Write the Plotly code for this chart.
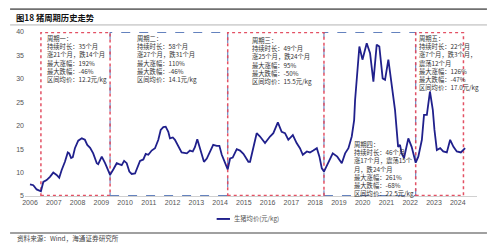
import plotly.graph_objects as go

# ---- data ----
years = [2006.00, 2006.14, 2006.28, 2006.46, 2006.56, 2006.70, 2006.84, 2006.98, 2007.12, 2007.23,
         2007.33, 2007.47, 2007.59, 2007.65, 2007.73, 2007.80, 2007.89, 2008.03, 2008.18, 2008.31,
         2008.41, 2008.53, 2008.66, 2008.81, 2008.87, 2009.02, 2009.16, 2009.37, 2009.51, 2009.65,
         2009.75, 2009.86, 2009.96, 2010.07, 2010.18, 2010.28, 2010.42, 2010.52, 2010.63, 2010.77,
         2010.87, 2010.98, 2011.12, 2011.26, 2011.40, 2011.50, 2011.61, 2011.71, 2011.82, 2011.89,
         2012.01, 2012.10, 2012.24, 2012.38, 2012.60, 2012.73, 2012.85, 2012.94, 2013.04, 2013.13,
         2013.23, 2013.32, 2013.44, 2013.55, 2013.71, 2013.86, 2013.97, 2014.07, 2014.21, 2014.32,
         2014.42, 2014.53, 2014.70, 2014.84, 2014.98, 2015.19, 2015.26, 2015.54, 2015.68, 2015.89,
         2016.10, 2016.24, 2016.43, 2016.59, 2016.73, 2016.87, 2017.06, 2017.22, 2017.36, 2017.48,
         2017.65, 2017.78, 2017.92, 2018.07, 2018.18, 2018.28, 2018.37, 2018.55, 2018.74, 2018.93,
         2019.12, 2019.26, 2019.40, 2019.54, 2019.64, 2019.68, 2019.78, 2019.86, 2019.99, 2020.17,
         2020.31, 2020.45, 2020.59, 2020.70, 2020.84, 2020.94, 2021.08, 2021.22, 2021.36, 2021.43,
         2021.49, 2021.57, 2021.64, 2021.74, 2021.92, 2022.06, 2022.23, 2022.34, 2022.49, 2022.58,
         2022.70, 2022.83, 2022.95, 2023.02, 2023.12, 2023.26, 2023.39, 2023.54, 2023.68, 2023.82,
         2023.96, 2024.13, 2024.31]
prices = [7.5, 7.3, 6.4, 6.0, 8.0, 8.4, 9.1, 10.0, 9.5, 8.9,
          10.5, 12.3, 14.3, 14.1, 13.1, 13.3, 15.2, 16.8, 17.3, 17.0,
          15.9, 15.3, 14.1, 12.0, 11.8, 13.4, 12.0, 9.5, 10.7, 12.0,
          11.8, 11.6, 12.5, 12.0, 10.2, 9.7, 9.8, 11.3, 12.5, 12.8,
          14.0, 13.8, 14.7, 15.2, 17.0, 19.1, 19.7, 19.8, 18.7, 17.3,
          17.5, 17.0, 15.5, 14.3, 14.1, 14.7, 14.5, 15.4, 17.1, 15.5,
          14.1, 12.3, 13.0, 14.1, 15.9, 15.7, 15.7, 13.8, 12.0, 10.7,
          13.0, 13.2, 15.0, 14.7, 14.0, 12.3, 12.3, 18.4, 17.7, 16.3,
          17.7, 18.4, 20.7, 18.7, 18.4, 17.0, 18.0, 16.3, 15.2, 13.8,
          14.5, 14.3, 14.7, 15.2, 13.4, 10.9, 10.2, 12.0, 14.1, 13.4,
          12.0, 14.1, 15.2, 17.7, 21.2, 25.5, 32.6, 36.9, 34.1, 37.6,
          35.5, 29.4, 37.3, 36.9, 30.1, 29.8, 34.1, 29.1, 23.4, 19.1,
          15.5, 15.9, 14.1, 13.1, 17.3, 15.5, 12.1, 13.4, 17.0, 22.3,
          22.3, 27.3, 23.4, 19.1, 14.8, 15.2, 14.5, 14.3, 17.0, 15.5,
          14.5, 14.3, 15.2]

tick_years = list(range(2006, 2025))
tick_labels = [str(y) for y in tick_years]
y_ticks = [5, 10, 15, 20, 25, 30, 35, 40]

# cycle boundaries (troughs) and box colours
cycle_bounds = [2006.46, 2009.37, 2014.32, 2018.37, 2022.23, 2024.24]
cycle_kind = ["red", "blue", "red", "blue", "red"]

cycle_texts = [
    "周期一：<br>持续时长：35个月<br>涨21个月，跌14个月<br>最大涨幅：192%<br>最大跌幅：-46%<br>区间均价：12.2元/kg",
    "周期二：<br>持续时长：58个月<br>涨27个月，跌31个月<br>最大涨幅：110%<br>最大跌幅：-46%<br>区间均价：14.1元/kg",
    "周期三：<br>持续时长：49个月<br>涨25个月，跌24个月<br>最大涨幅：95%<br>最大跌幅：-50%<br>区间均价：15.5元/kg",
    "周期四：<br>持续时长：46个月<br>涨17个月，震荡15个<br>月，跌24个月<br>最大涨幅：261%<br>最大跌幅：-68%<br>区间均价：22.5元/kg",
    "周期五：<br>持续时长：22个月<br>涨7个月，跌3个月，<br>震荡12个月<br>最大涨幅：126%<br>最大跌幅：-47%<br>区间均价：17.0元/kg",
]
text_x = [2006.68, 2010.45, 2015.30, 2019.58, 2022.33]
text_y = [40.0, 40.0, 39.4, 17.15, 39.85]
text_shift = [-1, -1, 0, 0, 0]

series_name = "生猪均价(元/kg)"

FONT = "Noto Sans CJK SC, Noto Sans, sans-serif"
LINE_COLOR = "#20208c"
RED = "rgba(226,72,92,0.95)"
BLUE = "rgb(100,130,190)"

fig = go.Figure()
fig.add_trace(go.Scatter(x=years, y=prices, mode="lines", name=series_name,
                         line=dict(color=LINE_COLOR, width=1.8), showlegend=False))

shapes = []
# blue boxes first, red on top so shared edges show red
for kind_pass in ["blue", "red"]:
    for i, kind in enumerate(cycle_kind):
        if kind != kind_pass:
            continue
        shapes.append(dict(type="rect", xref="x", yref="y",
                           x0=cycle_bounds[i], x1=cycle_bounds[i + 1], y0=5.12, y1=39.88,
                           line=dict(color=RED if kind == "red" else BLUE,
                                     width=1.5 if kind == "red" else 1.1,
                                     dash="dot" if kind == "red" else "dash"),
                           layer="below"))

# decorative rules (paper coords)
shapes += [
    dict(type="line", xref="paper", yref="paper", x0=-0.033, x1=1.022, y0=1.140, y1=1.140,
         line=dict(color="#707070", width=1.8)),
    dict(type="line", xref="paper", yref="paper", x0=-0.033, x1=1.022, y0=1.043, y1=1.043,
         line=dict(color="#a0a0a0", width=0.8)),
    dict(type="line", xref="paper", yref="paper", x0=-0.033, x1=1.022, y0=-0.226, y1=-0.226,
         line=dict(color="#808080", width=1.6)),
    # legend sample
    dict(type="line", xref="paper", yref="paper", x0=0.424, x1=0.4535, y0=-0.140, y1=-0.140,
         line=dict(color=LINE_COLOR, width=1.9)),
]

annotations = []
for t, x, y, s in zip(cycle_texts, text_x, text_y, text_shift):
    annotations.append(dict(text=t, x=x, y=y, xref="x", yref="y", xanchor="left", yanchor="top",
                            align="left", showarrow=False, borderpad=0, yshift=s,
                            font=dict(family=FONT, size=6.3, color="#333333")))
annotations += [
    dict(text="<b>图18 猪周期历史走势</b>", x=-0.025, y=1.0915, xref="paper", yref="paper",
         xanchor="left", yanchor="middle", showarrow=False,
         font=dict(family=FONT, size=8.3, color="#111111")),
    dict(text=series_name, x=0.457, y=-0.140, xref="paper", yref="paper",
         xanchor="left", yanchor="middle", showarrow=False,
         font=dict(family=FONT, size=6.3, color="#555555")),
    dict(text="资料来源：Wind，海通证券研究所", x=-0.022, y=-0.257, xref="paper", yref="paper",
         xanchor="left", yanchor="middle", showarrow=False,
         font=dict(family=FONT, size=6.6, color="#444444")),
]

fig.update_layout(
    width=499, height=252,
    margin=dict(l=25, r=22, t=32, b=56),
    paper_bgcolor="white", plot_bgcolor="white",
    font=dict(family=FONT, size=7, color="#555555"),
    showlegend=False,
    shapes=shapes, annotations=annotations,
    xaxis=dict(range=[2005.79, 2024.81], tickmode="array", tickvals=tick_years, ticktext=tick_labels,
               showgrid=False, zeroline=False, showline=True, linecolor="#d0d0d0", linewidth=1,
               ticks="", tickfont=dict(family="Liberation Sans, Arial, sans-serif", size=7, color="#555555")),
    yaxis=dict(range=[5, 40], tickmode="array", tickvals=y_ticks, showgrid=False, zeroline=False,
               showline=False, ticks="",
               tickfont=dict(family="Liberation Sans, Arial, sans-serif", size=7, color="#555555")),
)

fig.write_html("out.html")
